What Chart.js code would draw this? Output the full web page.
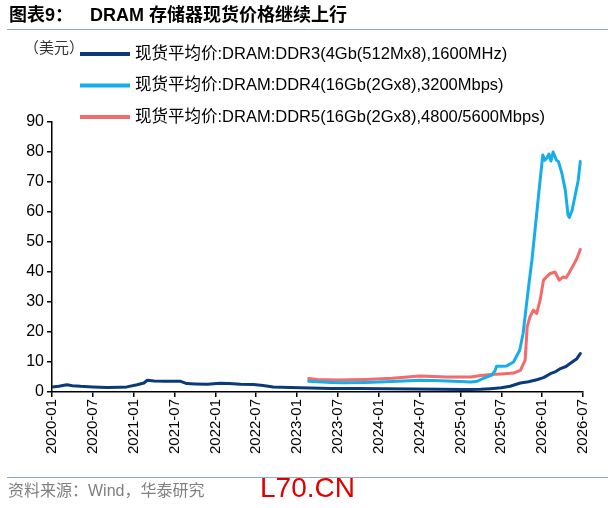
<!DOCTYPE html>
<html>
<head>
<meta charset="utf-8">
<script src="https://cdn.jsdelivr.net/npm/chart.js@4/dist/chart.umd.min.js"></script>
<style>
  html, body { margin: 0; padding: 0; background: #fff; }
  #wrap { width: 610px; height: 508px; }
</style>
</head>
<body>
<div id="wrap"><canvas id="chart_dramSpot" width="610" height="508"></canvas></div>
<script>
// x values are months since 2020-01
var tickLabels = ['2020-01', '2020-07', '2021-01', '2021-07', '2022-01', '2022-07', '2023-01',
    '2023-07', '2024-01', '2024-07', '2025-01', '2025-07', '2026-01', '2026-07'];

var seriesNames = [
    '现货平均价:DRAM:DDR3(4Gb(512Mx8),1600MHz)',
    '现货平均价:DRAM:DDR4(16Gb(2Gx8),3200Mbps)',
    '现货平均价:DRAM:DDR5(16Gb(2Gx8),4800/5600Mbps)'
];
var seriesColors = ['#0B3A7B', '#16ADEB', '#F36B6B'];

var ddr3Months = [0, 1, 2.2, 3, 4.2, 6, 8.1, 10, 11, 12.5, 13.5, 14, 15, 16.5, 17.9, 18.8, 19.8, 21, 22.8, 24.7,
    26, 27.7, 29.6, 31, 32.5, 35, 38, 41, 45, 49, 53, 57, 60, 61.5, 63, 64.4, 66, 67.3, 68.8, 70,
    71.2, 72.2, 73.2, 74, 74.7, 75.5, 76.1, 77.1, 77.6];
var ddr3Values = [1.7, 1.9, 2.4, 2.1, 1.9, 1.7, 1.5, 1.6, 1.7, 2.4, 3.0, 3.9, 3.7, 3.6, 3.6, 3.6, 2.8, 2.7, 2.6, 2.9,
    2.8, 2.6, 2.5, 2.2, 1.7, 1.5, 1.3, 1.2, 1.2, 1.1, 1.0, 0.9, 0.8, 0.8, 0.9, 1.1, 1.4, 1.9, 3.0, 3.4,
    4.1, 4.8, 6.1, 6.8, 7.8, 8.5, 9.5, 11.1, 12.8];

var ddr4Months = [37.7, 39, 41, 43, 46, 50, 54, 56, 58, 60, 61.5, 62.5, 63.3, 64.6, 65.1, 65.3, 66, 66.8, 67.8, 68.7,
    69.2, 69.6, 70.0, 70.5, 71.2, 71.7, 72.1, 72.4, 72.7, 73.0, 73.3, 73.6, 74.1, 74.4, 74.9, 75.4, 75.8, 76.0,
    76.4, 76.8, 77.3, 77.6];
var ddr4Values = [3.6, 3.4, 3.2, 3.1, 3.2, 3.5, 3.9, 3.8, 3.7, 3.5, 3.3, 3.6, 4.5, 5.6, 7.2, 8.6, 8.6, 8.7, 10, 13.9,
    19.5, 27.3, 35, 44, 59.5, 70.6, 79, 77.3, 78, 79.3, 77, 80, 77.3, 76.8, 72.9, 67.3, 59, 58.2,
    60.6, 65, 70.6, 76.8];

var ddr5Months = [37.7, 39, 42, 46, 50, 54, 58, 61.5, 63, 64.4, 66, 67.8, 68.8, 69.5, 69.8, 70.2, 70.7, 71.2, 71.7, 72.2,
    72.7, 73.2, 73.9, 74.5, 75.1, 75.5, 75.9, 76.6, 77.1, 77.6];
var ddr5Values = [4.5, 4.2, 4.0, 4.2, 4.6, 5.3, 5.0, 5.0, 5.5, 5.8, 6.0, 6.3, 7.2, 10.6, 21.7, 25, 27.3, 26.2, 30.6, 37.3,
    38.5, 39.5, 40, 37.3, 38.4, 38.0, 39.5, 42.3, 44.5, 47.5];

function toPoints(xs, ys) {
    return xs.map(function (x, i) { return { x: x, y: ys[i] }; });
}

var FONT = '"Liberation Sans", Arial, "Noto Sans CJK SC", sans-serif';

var chart_dramSpot = new Chart(document.getElementById('chart_dramSpot'), {
    type: 'line',
    data: {
        datasets: [
            { label: seriesNames[0], data: toPoints(ddr3Months, ddr3Values), borderColor: seriesColors[0], borderWidth: 3 },
            { label: seriesNames[1], data: toPoints(ddr4Months, ddr4Values), borderColor: seriesColors[1], borderWidth: 3 },
            { label: seriesNames[2], data: toPoints(ddr5Months, ddr5Values), borderColor: seriesColors[2], borderWidth: 3 }
        ]
    },
    options: {
        animation: false,
        responsive: false,
        devicePixelRatio: 1,
        elements: { point: { radius: 0 }, line: { tension: 0, borderJoinStyle: 'round', borderCapStyle: 'round' } },
        layout: { padding: { left: 0, right: 27, top: 122, bottom: 50 } },
        plugins: {
            legend: { display: false },
            tooltip: { enabled: false }
        },
        scales: {
            x: {
                type: 'linear',
                min: 0,
                max: 78,
                afterFit: function (s) { s.height = 66; },
                afterBuildTicks: function (s) {
                    s.ticks = tickLabels.map(function (_, i) { return { value: i * 6 }; });
                },
                ticks: {
                    autoSkip: false,
                    maxRotation: 90,
                    minRotation: 90,
                    padding: 2,
                    color: '#000',
                    font: { family: FONT, size: 15 },
                    callback: function (v) { return tickLabels[Math.round(v / 6)]; }
                },
                grid: { drawOnChartArea: false, tickLength: 5, color: '#000', lineWidth: 1.5 },
                border: { color: '#000', width: 1.5 }
            },
            y: {
                min: 0,
                max: 90,
                afterFit: function (s) { s.width = 52; },
                ticks: {
                    stepSize: 10,
                    padding: 3,
                    color: '#000',
                    font: { family: FONT, size: 16 }
                },
                grid: { drawOnChartArea: false, tickLength: 5, color: '#000', lineWidth: 1.5 },
                border: { color: '#000', width: 1.5 }
            }
        }
    },
    plugins: [{
        id: 'pageDecor',
        beforeDraw: function (chart) {
            var ctx = chart.ctx;
            ctx.save();
            ctx.fillStyle = 'white';
            ctx.fillRect(0, 0, chart.width, chart.height);
            ctx.restore();
        },
        afterDraw: function (chart) {
            var ctx = chart.ctx;
            ctx.save();
            // title
            ctx.fillStyle = '#000';
            ctx.textBaseline = 'alphabetic';
            ctx.font = 'bold 18px ' + FONT;
            ctx.fillText('图表9：', 9, 21);
            ctx.fillText('DRAM 存储器现货价格继续上行', 90, 21);
            // rules
            ctx.strokeStyle = '#8EA8C8';
            ctx.lineWidth = 1;
            ctx.beginPath();
            ctx.moveTo(7, 29.5); ctx.lineTo(608, 29.5);
            ctx.moveTo(7, 477.5); ctx.lineTo(608, 477.5);
            ctx.stroke();
            // unit
            ctx.textBaseline = 'middle';
            ctx.font = '15px ' + FONT;
            ctx.fillStyle = '#333';
            ctx.fillText('（美元）', 24, 49);
            // legend
            var rows = [54, 85.5, 117];
            chart.data.datasets.forEach(function (ds, i) {
                ctx.strokeStyle = ds.borderColor;
                ctx.lineWidth = 4;
                ctx.beginPath();
                ctx.moveTo(80, rows[i]); ctx.lineTo(130, rows[i]);
                ctx.stroke();
                ctx.fillStyle = '#000';
                ctx.font = '16.5px ' + FONT;
                ctx.fillText(ds.label, 135, rows[i]);
            });
            // footer
            ctx.fillStyle = '#808080';
            ctx.font = '16px ' + FONT;
            ctx.fillText('资料来源：Wind，华泰研究', 8, 492);
            ctx.fillStyle = '#E00000';
            ctx.font = '28px ' + FONT;
            ctx.fillText('L70.CN', 260, 489);
            ctx.restore();
        }
    }]
});
</script>
</body>
</html>
